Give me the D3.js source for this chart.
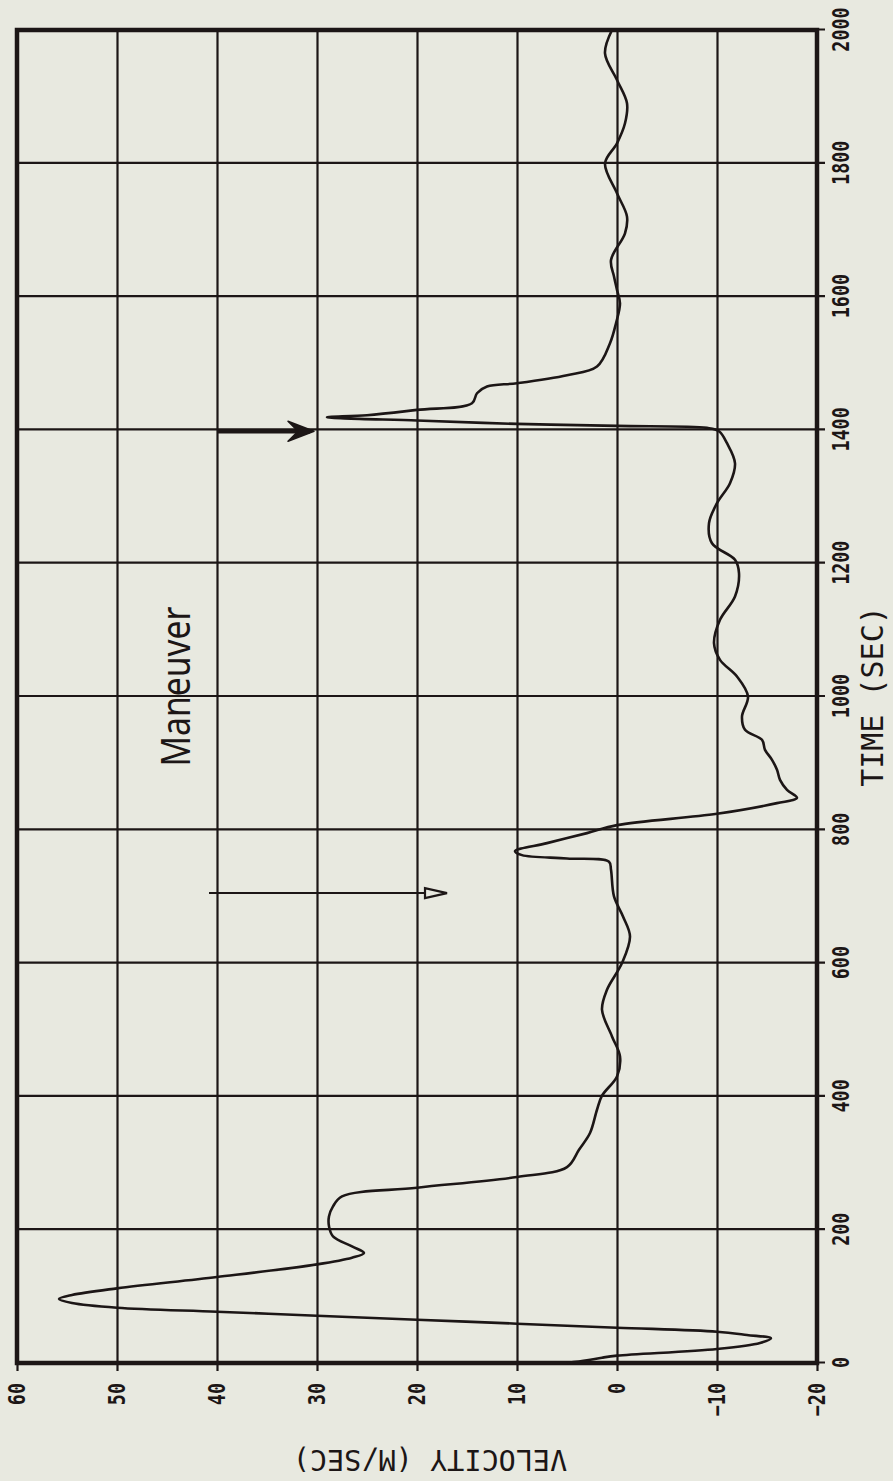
<!DOCTYPE html>
<html>
<head>
<meta charset="utf-8">
<script src="https://cdn.jsdelivr.net/npm/d3@7"></script>
<style>
  html, body { margin: 0; padding: 0; background: #e8e9e0; }
  svg { display: block; }
</style>
</head>
<body>
<svg id="chart" width="893" height="1481"></svg>
<script>
// tick labels
const timeTicks = [0, 200, 400, 600, 800, 1000, 1200, 1400, 1600, 1800, 2000]
const velTicks = [-20, -10, 0, 10, 20, 30, 40, 50, 60]

// velocity trace (time in sec, velocity in m/s)
const timeSec = [
    0, 4, 8, 11, 21, 30, 37, 42, 47, 53, 59, 65, 71, 77, 83, 90, 96, 102, 112,
    129, 148, 158, 165, 175, 190, 205, 220, 235, 250, 263, 279, 294, 320, 345,
    380, 401, 430, 460, 490, 530, 560, 600, 640, 670, 700, 740, 752, 757, 762,
    768, 780, 795, 807, 824, 840, 848, 860, 875, 890, 905, 920, 935, 950, 970,
    1000, 1030, 1055, 1080, 1115, 1150, 1185, 1205, 1230, 1260, 1290, 1320,
    1350, 1380, 1398, 1403, 1406, 1409, 1414, 1419, 1422, 1430, 1440, 1455,
    1465, 1470, 1482, 1495, 1530, 1560, 1590, 1610, 1630, 1655, 1695, 1720,
    1755, 1800, 1830, 1860, 1890, 1925, 1965, 2000
]
const velocity = [
    5, 3, 1.5, 0, -10, -14.3, -15.4, -13, -10, 0, 10, 20, 30, 40, 50, 54.5, 55.8, 54.5, 50,
    40, 30, 26.5, 25.3, 26.5, 28.4, 28.8, 28.8, 28.4, 27.5, 20, 10, 5, 3.8, 2.7,
    2.0, 1.5, 0, -0.3, 0.5, 1.5, 1.0, -0.5, -1.3, -0.6, 0.3, 0.6, 0.8, 5, 9.5,
    10.2, 7, 3, 0, -10, -16, -18, -17, -16.3, -16, -15.5, -14.8, -14.5, -12.8, -12.5,
    -13.1, -12, -10.3, -9.7, -10.3, -11.8, -12.2, -11.8, -9.5, -9.2, -10, -11.3,
    -11.8, -11, -10.2, -9, 0, 10, 20, 29, 25, 20, 14.5, 14,
    13, 10, 5, 2, 0.7, 0.1, -0.3, 0, 0.3, 0.6, -0.8, -1.0,
    0, 1.2, 0, -0.8, -1, 0, 1.2, 0.5
]

const ink = '#1c1616'
const W = 1481, H = 893            // chart drawn unrotated, then turned 90 deg
const svg = d3.select('#chart')

svg.append('rect').attr('width', 893).attr('height', 1481).attr('fill', '#e8e9e0')

const g = svg.append('g').attr('transform', `translate(0,${W}) rotate(-90)`)

const x = d3.scaleLinear().domain([0, 2000]).range([118, 1451])
const y = d3.scaleLinear().domain([-20, 60]).range([817, 17])

// time axis + vertical grid
const gx = g.append('g')
    .attr('transform', `translate(0,${y(-20)})`)
    .call(d3.axisBottom(x).tickValues(timeTicks).tickSize(8).tickPadding(8).tickFormat(d3.format('d')))
gx.select('.domain').remove()
gx.selectAll('.tick line')
    .attr('y1', y(60) - y(-20))
    .attr('stroke', ink).attr('stroke-width', 2.2)
gx.selectAll('.tick text')
    .attr('fill', ink)
    .attr('font-family', 'DejaVu Sans Mono, monospace')
    .attr('font-weight', 'bold')
    .attr('font-size', 23)
    .attr('transform', 'scale(0.8,1)')

// velocity axis + horizontal grid
const gy = g.append('g')
    .attr('transform', `translate(${x(0)},0)`)
    .call(d3.axisLeft(y).tickValues(velTicks).tickSize(8).tickPadding(17).tickFormat(d3.format('d')))
gy.select('.domain').remove()
gy.selectAll('.tick line')
    .attr('x1', x(2000) - x(0))
    .attr('stroke', ink).attr('stroke-width', 2.2)
gy.selectAll('.tick text')
    .attr('fill', ink)
    .attr('font-family', 'DejaVu Sans Mono, monospace')
    .attr('font-weight', 'bold')
    .attr('font-size', 23)
    .attr('transform', 'scale(0.8,1)')

// frame
g.append('rect')
    .attr('x', x(0)).attr('y', y(60))
    .attr('width', x(2000) - x(0)).attr('height', y(-20) - y(60))
    .attr('fill', 'none').attr('stroke', ink).attr('stroke-width', 4.5)

// titles
g.append('text')
    .attr('x', x(1000)).attr('y', 883)
    .attr('text-anchor', 'middle')
    .attr('font-family', 'DejaVu Sans Mono, monospace')
    .attr('font-size', 30)
    .attr('fill', ink)
    .text('TIME (SEC)')

g.append('text')
    .attr('transform', 'translate(31,430) rotate(-90)')
    .attr('text-anchor', 'middle')
    .attr('font-family', 'DejaVu Sans Mono, monospace')
    .attr('font-size', 28.5)
    .attr('fill', ink)
    .text('VELOCITY (M/SEC)')

// the trace
const pts = timeSec.map((t, i) => [t, velocity[i]])
const line = d3.line()
    .x(d => x(d[0]))
    .y(d => y(d[1]))
    .curve(d3.curveCatmullRom.alpha(0.5))

g.append('path')
    .datum(pts)
    .attr('d', line)
    .attr('fill', 'none')
    .attr('stroke', ink)
    .attr('stroke-width', 2.6)
    .attr('stroke-linejoin', 'round')

// hand-drawn annotations
g.append('text')
    .attr('x', x(895)).attr('y', y(42.7))
    .attr('font-family', 'Noto Sans, sans-serif')
    .attr('font-size', 40)
    .attr('textLength', x(1135) - x(895))
    .attr('lengthAdjust', 'spacingAndGlyphs')
    .attr('fill', ink)
    .text('Maneuver')

// thin arrow with open head
const a1 = {t: 705, v0: 40.8, v1: 17}
g.append('line')
    .attr('x1', x(a1.t)).attr('x2', x(a1.t))
    .attr('y1', y(a1.v0)).attr('y2', y(a1.v1) - 20)
    .attr('stroke', ink).attr('stroke-width', 2)
g.append('path')
    .attr('d', d3.line()([[x(a1.t) - 5, y(a1.v1) - 22], [x(a1.t) + 5, y(a1.v1) - 22], [x(a1.t), y(a1.v1)]]) + 'Z')
    .attr('fill', '#e8e9e0').attr('stroke', ink).attr('stroke-width', 2.2)

// bold arrow at the maneuver time
const a2 = {t: 1398, v0: 40, v1: 30.3}
g.append('line')
    .attr('x1', x(a2.t)).attr('x2', x(a2.t))
    .attr('y1', y(a2.v0)).attr('y2', y(a2.v1) - 4)
    .attr('stroke', ink).attr('stroke-width', 4.5)
g.append('path')
    .attr('d', d3.line()([[x(a2.t) - 10, y(a2.v1) - 26], [x(a2.t), y(a2.v1)], [x(a2.t) + 10, y(a2.v1) - 26], [x(a2.t), y(a2.v1) - 16]]) + 'Z')
    .attr('fill', ink).attr('stroke', ink).attr('stroke-width', 1.5).attr('stroke-linejoin', 'round')
</script>
</body>
</html>
